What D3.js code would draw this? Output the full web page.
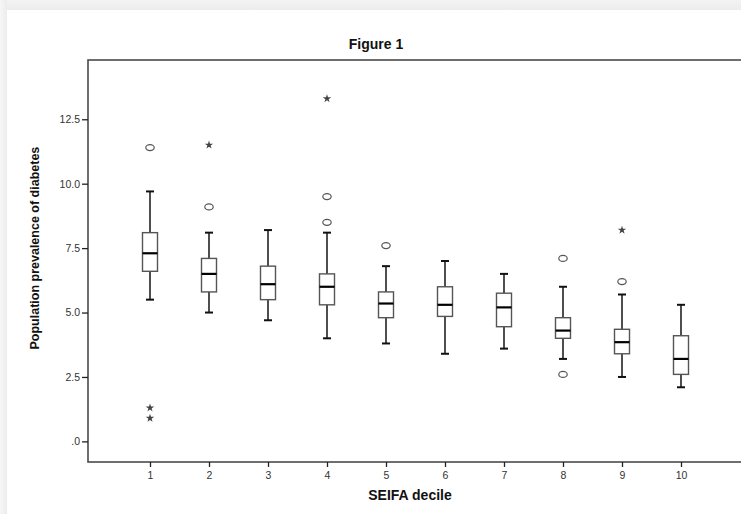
<!DOCTYPE html>
<html>
<head>
<meta charset="utf-8">
<script src="https://cdn.jsdelivr.net/npm/d3@7"></script>
<style>
  html, body { margin: 0; padding: 0; background: #fff; }
  svg { display: block; }
  text { font-family: "Liberation Sans", Arial, sans-serif; }
</style>
</head>
<body>
<svg id="chart" width="741" height="514"></svg>
<script>
// Diabetes prevalence by SEIFA decile: box summaries
const deciles     = [1, 2, 3, 4, 5, 6, 7, 8, 9, 10];
const whiskerLow  = [5.5, 5.0, 4.7, 4.0, 3.8, 3.4, 3.6, 3.2, 2.5, 2.1];
const q1          = [6.6, 5.8, 5.5, 5.3, 4.8, 4.85, 4.45, 4.0, 3.4, 2.6];
const median      = [7.3, 6.5, 6.1, 6.0, 5.35, 5.3, 5.2, 4.3, 3.85, 3.2];
const q3          = [8.1, 7.1, 6.8, 6.5, 5.8, 6.0, 5.75, 4.8, 4.35, 4.1];
const whiskerHigh = [9.7, 8.1, 8.2, 8.1, 6.8, 7.0, 6.5, 6.0, 5.7, 5.3];
// mild outliers (circles) and extreme values (stars)
const outliers    = [[11.4], [9.1], [], [9.5, 8.5], [7.6], [], [], [7.1, 2.6], [6.2], []];
const extremes    = [[1.3, 0.9], [11.5], [], [13.3], [], [], [], [], [8.2], []];

const yTicks      = [0, 2.5, 5, 7.5, 10, 12.5];
const yTickLabels = [".0", "2.5", "5.0", "7.5", "10.0", "12.5"];
const xTickLabels = ["1", "2", "3", "4", "5", "6", "7", "8", "9", "10"];

const svg = d3.select("#chart");

// window backdrop: light grey strip along top and left
const defs = svg.append("defs");
const gTop = defs.append("linearGradient").attr("id", "bgTop").attr("x1", 0).attr("y1", 0).attr("x2", 0).attr("y2", 1);
gTop.append("stop").attr("offset", "0%").attr("stop-color", "#f3f3f3");
gTop.append("stop").attr("offset", "100%").attr("stop-color", "#ececec");
const gLeft = defs.append("linearGradient").attr("id", "bgLeft").attr("x1", 0).attr("y1", 0).attr("x2", 1).attr("y2", 0);
gLeft.append("stop").attr("offset", "0%").attr("stop-color", "#f6f6f6");
gLeft.append("stop").attr("offset", "100%").attr("stop-color", "#ececec");

svg.append("rect").attr("x", 0).attr("y", 0).attr("width", 741).attr("height", 10).attr("fill", "url(#bgTop)");
svg.append("rect").attr("x", 0).attr("y", 0).attr("width", 7).attr("height", 514).attr("fill", "url(#bgLeft)");

const plot = { left: 88, top: 60, right: 760, bottom: 462 };

const x = d3.scaleLinear().domain([1, 10]).range([150, 681]);
const y = d3.scaleLinear().domain([-0.8, 14.8]).range([plot.bottom, plot.top]);

// title
svg.append("text")
  .attr("x", 376).attr("y", 49)
  .attr("text-anchor", "middle")
  .attr("font-size", 14).attr("font-weight", "bold").attr("fill", "#111")
  .text("Figure 1");

// frame
svg.append("rect")
  .attr("x", plot.left).attr("y", plot.top)
  .attr("width", plot.right - plot.left).attr("height", plot.bottom - plot.top)
  .attr("fill", "none").attr("stroke", "#4a4a4a").attr("stroke-width", 1.6);

// y axis
const yAxis = d3.axisLeft(y)
  .tickValues(yTicks)
  .tickFormat((d, i) => yTickLabels[i])
  .tickSize(6).tickPadding(2);
const gy = svg.append("g").attr("transform", `translate(${plot.left},0)`).call(yAxis);
gy.select(".domain").remove();
gy.selectAll(".tick line").attr("stroke", "#222").attr("stroke-width", 1.3);
gy.selectAll(".tick text").attr("font-size", 10.5).attr("fill", "#333")
  .attr("font-family", "Liberation Sans, Arial, sans-serif");

// x axis
const xAxis = d3.axisBottom(x)
  .tickValues(deciles)
  .tickFormat((d, i) => xTickLabels[i])
  .tickSize(5).tickPadding(5);
const gx = svg.append("g").attr("transform", `translate(0,${plot.bottom})`).call(xAxis);
gx.select(".domain").remove();
gx.selectAll(".tick line").attr("stroke", "#222").attr("stroke-width", 1.3);
gx.selectAll(".tick text").attr("font-size", 10.5).attr("fill", "#333")
  .attr("font-family", "Liberation Sans, Arial, sans-serif");

// axis titles
svg.append("text")
  .attr("x", 410).attr("y", 500)
  .attr("text-anchor", "middle")
  .attr("font-size", 14).attr("font-weight", "bold").attr("fill", "#111")
  .text("SEIFA decile");

svg.append("text")
  .attr("transform", `translate(39,${y(7.5)}) rotate(-90)`)
  .attr("text-anchor", "middle")
  .attr("font-size", 12.5).attr("font-weight", "bold").attr("fill", "#111")
  .text("Population prevalence of diabetes");

// boxes
const boxW = 15, capW = 8;
const rows = deciles.map((d, i) => ({
  d, lo: whiskerLow[i], q1: q1[i], med: median[i], q3: q3[i], hi: whiskerHigh[i],
  out: outliers[i], ext: extremes[i]
}));

const g = svg.append("g");
const box = g.selectAll("g.box").data(rows).join("g").attr("class", "box");

// whisker stems
box.append("line")
  .attr("x1", r => x(r.d)).attr("x2", r => x(r.d))
  .attr("y1", r => y(r.hi)).attr("y2", r => y(r.q3))
  .attr("stroke", "#222").attr("stroke-width", 1.6);
box.append("line")
  .attr("x1", r => x(r.d)).attr("x2", r => x(r.d))
  .attr("y1", r => y(r.q1)).attr("y2", r => y(r.lo))
  .attr("stroke", "#222").attr("stroke-width", 1.6);
// caps
box.append("line")
  .attr("x1", r => x(r.d) - capW / 2).attr("x2", r => x(r.d) + capW / 2)
  .attr("y1", r => y(r.hi)).attr("y2", r => y(r.hi))
  .attr("stroke", "#111").attr("stroke-width", 2);
box.append("line")
  .attr("x1", r => x(r.d) - capW / 2).attr("x2", r => x(r.d) + capW / 2)
  .attr("y1", r => y(r.lo)).attr("y2", r => y(r.lo))
  .attr("stroke", "#111").attr("stroke-width", 2);
// box body
box.append("rect")
  .attr("x", r => x(r.d) - boxW / 2).attr("width", boxW)
  .attr("y", r => y(r.q3)).attr("height", r => y(r.q1) - y(r.q3))
  .attr("fill", "#fff").attr("stroke", "#555").attr("stroke-width", 1.4);
// median
box.append("line")
  .attr("x1", r => x(r.d) - boxW / 2).attr("x2", r => x(r.d) + boxW / 2)
  .attr("y1", r => y(r.med)).attr("y2", r => y(r.med))
  .attr("stroke", "#000").attr("stroke-width", 2.2);

// outliers as small open ellipses
const outPts = rows.flatMap(r => r.out.map(v => ({ d: r.d, v })));
g.selectAll("ellipse.out").data(outPts).join("ellipse").attr("class", "out")
  .attr("cx", p => x(p.d)).attr("cy", p => y(p.v))
  .attr("rx", 4.2).attr("ry", 3)
  .attr("fill", "none").attr("stroke", "#555").attr("stroke-width", 1.2);

// extreme values as stars
const extPts = rows.flatMap(r => r.ext.map(v => ({ d: r.d, v })));
const star = d3.symbol().type(d3.symbolStar).size(22);
g.selectAll("path.ext").data(extPts).join("path").attr("class", "ext")
  .attr("transform", p => `translate(${x(p.d)},${y(p.v)})`)
  .attr("d", star)
  .attr("fill", "#444");
</script>
</body>
</html>
